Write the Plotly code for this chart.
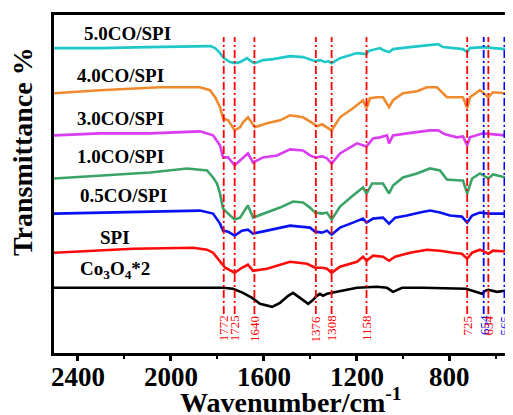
import plotly.graph_objects as go

# ---------------- data ----------------
series_names = ["5.0CO/SPI", "4.0CO/SPI", "3.0CO/SPI", "1.0CO/SPI",
                "0.5CO/SPI", "SPI", "Co<sub>3</sub>O<sub>4</sub>*2"]

wn_50 = [2502, 2300, 2100, 1874, 1830, 1809, 1788, 1772, 1745, 1725, 1702, 1672, 1650, 1638,
         1603, 1560, 1487, 1431, 1401, 1379, 1358, 1336, 1323, 1308, 1272, 1199, 1158, 1150,
         1100, 1087, 1061, 1044, 971, 885, 850, 829, 769, 743, 725, 713, 657, 597, 563, 528]
t_50 = [305, 305, 306, 307, 307, 305, 300, 295, 291, 290, 291, 295, 291, 290,
        293, 294, 297, 296, 294, 292, 293, 291, 292, 290, 295, 300, 299, 302,
        305, 303, 301, 304, 306, 308, 309, 306, 305, 304, 301, 305, 306, 305, 304, 306]

wn_40 = [2502, 2304, 2046, 1874, 1831, 1809, 1788, 1775, 1753, 1725, 1702, 1689, 1668, 1650,
         1638, 1586, 1530, 1487, 1431, 1388, 1371, 1349, 1328, 1308, 1272, 1216, 1173, 1158,
         1143, 1113, 1087, 1061, 1044, 1001, 941, 898, 855, 812, 769, 743, 725, 713, 670, 634,
         614, 563, 528]
t_40 = [260, 263, 266, 266, 263, 256, 246, 235, 233, 223, 226, 231, 236, 230,
        226, 230, 233, 238, 236, 230, 227, 229, 226, 223, 236, 245, 253, 245,
        255, 256, 256, 246, 253, 260, 262, 266, 266, 256, 256, 256, 245, 256, 263, 256,
        261, 260, 264]

wn_30 = [2502, 2304, 2089, 1874, 1818, 1788, 1775, 1753, 1725, 1702, 1668, 1646, 1603, 1543,
         1487, 1431, 1401, 1379, 1349, 1328, 1308, 1272, 1199, 1158, 1130, 1100, 1070, 1061,
         1044, 984, 885, 850, 820, 769, 743, 725, 713, 657, 597, 563, 528]
t_30 = [218, 220, 220, 222, 218, 208, 196, 196, 188, 193, 200, 191, 196, 198,
        204, 203, 198, 196, 197, 195, 190, 200, 210, 207, 215, 216, 218, 210,
        218, 220, 223, 223, 219, 216, 217, 208, 216, 220, 219, 218, 221]

wn_10 = [2502, 2304, 2089, 1930, 1844, 1818, 1801, 1788, 1775, 1753, 1725, 1702, 1689, 1668,
         1646, 1586, 1530, 1474, 1431, 1401, 1379, 1349, 1328, 1308, 1272, 1216, 1173, 1158,
         1134, 1087, 1061, 1044, 1001, 941, 885, 842, 812, 756, 743, 725, 704, 670, 634, 614,
         558, 528]
t_10 = [175, 178, 181, 185, 183, 176, 170, 160, 145, 140, 134, 136, 141, 148,
        136, 141, 146, 152, 151, 146, 141, 140, 141, 134, 147, 158, 166, 160,
        170, 170, 160, 168, 176, 180, 185, 183, 174, 173, 173, 160, 175, 180, 175, 179,
        176, 180]

wn_05 = [2502, 2162, 1874, 1818, 1788, 1775, 1753, 1725, 1694, 1668, 1646, 1586, 1487, 1401,
         1379, 1349, 1328, 1308, 1272, 1216, 1173, 1158, 1130, 1087, 1061, 1035, 984, 928,
         885, 842, 799, 748, 725, 704, 670, 634, 558, 528]
t_05 = [140, 142, 143, 140, 130, 123, 122, 118, 123, 124, 120, 123, 128, 126,
        122, 121, 123, 119, 126, 131, 135, 131, 135, 136, 130, 136, 138, 141,
        143, 141, 138, 137, 131, 138, 141, 140, 140, 141]

wn_spi = [2502, 2162, 1904, 1844, 1818, 1788, 1766, 1725, 1694, 1668, 1646, 1586, 1487, 1414,
          1379, 1349, 1328, 1308, 1272, 1199, 1173, 1158, 1130, 1087, 1061, 1035, 971, 898,
          842, 786, 748, 725, 704, 670, 634, 614, 554, 528]
t_spi = [101, 105, 106, 104, 101, 93, 86, 81, 86, 89, 83, 85, 92, 90,
         86, 86, 85, 81, 87, 92, 97, 93, 98, 97, 93, 97, 101, 104,
         103, 101, 100, 95, 101, 104, 100, 103, 102, 104]

wn_co = [2502, 2162, 1775, 1732, 1689, 1650, 1616, 1564, 1530, 1495, 1474, 1444, 1409, 1392,
         1371, 1358, 1345, 1328, 1285, 1199, 1113, 1070, 1044, 1005, 915, 799, 730, 661, 648,
         634, 597, 528]
t_co = [66, 66, 66, 65, 61, 56, 50, 47, 51, 58, 61, 56, 50, 53,
        58, 60, 58, 60, 62, 66, 67, 66, 62, 66, 66, 65, 65, 60, 63,
        64, 62, 64]

peak_wn = [1772, 1725, 1640, 1376, 1308, 1158, 725, 654, 634, 565]
peak_labels = ["1772", "1725", "1640", "1376", "1308", "1158", "725", "654", "634", "565"]
blue_peaks = [654, 565]

x_title = "Wavenumber/cm<sup>-1</sup>"
y_title = "Transmittance %"
x_tickvals = [2400, 2000, 1600, 1200, 800]
x_ticktext = ["2400", "2000", "1600", "1200", "800"]
x_minor_vals = [2200, 1800, 1400, 1000, 600]

# ---------------- styling ----------------
# the page body has an 8px margin, so the figure is placed 8px in from the window corner
OFF = 8
W, H = 513 - OFF, 415 - OFF
ML, MR, MT, MB = 54 - OFF, 0, 15 - OFF, 415 - 353
SERIF = "Liberation Serif"
colors = ["#1EC8C8", "#F08A2E", "#DA3CF2", "#3AA366", "#0A12F2", "#FF0A0A", "#000000"]
series = [(wn_50, t_50), (wn_40, t_40), (wn_30, t_30), (wn_10, t_10),
          (wn_05, t_05), (wn_spi, t_spi), (wn_co, t_co)]
# label anchor in window pixels (left x, centre y)
label_pos = [(82, 34), (75, 75), (75, 118), (75, 156), (78, 195), (98, 238), (78, 270)]

YR = [1, 338]
XR = [2502, 528]

pw = W - ML - MR
ph = H - MT - MB


def px_to_paper(px, py):
    return (px - OFF - ML) / pw, (H - MB - (py - OFF)) / ph


fig = go.Figure()
for (wx, ty), c in zip(series, colors):
    fig.add_trace(go.Scatter(x=wx, y=ty, mode="lines",
                             line=dict(color=c, width=2.6), showlegend=False,
                             hoverinfo="skip"))

# vertical marker lines with rotated labels (text top end at window y=315)
line_top, line_bot = 316, 40
label_top_py, digit_px = 315, 6.8
for w, lab in zip(peak_wn, peak_labels):
    c = "#0000FF" if w in blue_peaks else "#FF0000"
    fig.add_shape(type="line", xref="x", yref="y", x0=w, x1=w, y0=line_bot, y1=line_top,
                  line=dict(color=c, width=1.8, dash="8px,3px,2px,3px"), layer="above")
    _, ly = px_to_paper(0, label_top_py + len(lab) * digit_px / 2)
    fig.add_annotation(x=w, y=ly, xref="x", yref="paper", text=lab, showarrow=False,
                       textangle=-90, xanchor="center", yanchor="middle",
                       font=dict(family=SERIF, size=13, color=c))

for name, (px, py) in zip(series_names, label_pos):
    ax, ay = px_to_paper(px, py)
    fig.add_annotation(x=ax, y=ay, xref="paper", yref="paper",
                       text="<b>%s</b>" % name, showarrow=False, xanchor="left",
                       yanchor="middle", font=dict(family=SERIF, size=19, color="black"))

# x tick labels
_, ty = px_to_paper(0, 377)
for v, t in zip(x_tickvals, x_ticktext):
    fig.add_annotation(x=v, y=ty, xref="x", yref="paper", text="<b>%s</b>" % t,
                       showarrow=False, xanchor="center", yanchor="middle",
                       font=dict(family=SERIF, size=27, color="black"))

# axis titles
ax, ay = px_to_paper(291, 400)
fig.add_annotation(x=ax, y=ay, xref="paper", yref="paper",
                   text="<b>%s</b>" % x_title, showarrow=False, xanchor="center",
                   yanchor="middle", font=dict(family=SERIF, size=28, color="black"))
ax, ay = px_to_paper(22, 152)
fig.add_annotation(x=ax, y=ay, xref="paper", yref="paper",
                   text="<b>%s</b>" % y_title, showarrow=False, textangle=-90,
                   xanchor="center", yanchor="middle",
                   font=dict(family=SERIF, size=28, color="black"))

fig.update_layout(
    template="none",
    width=W, height=H, margin=dict(l=ML, r=MR, t=MT, b=MB, autoexpand=False),
    paper_bgcolor="white", plot_bgcolor="white", showlegend=False,
    xaxis=dict(range=XR, autorange=False, automargin=False, showgrid=False, zeroline=False,
               showline=True, linecolor="black",
               linewidth=3, mirror=True, ticks="outside", ticklen=5, tickwidth=2.5,
               tickcolor="black", tickvals=x_tickvals, showticklabels=False,
               minor=dict(tickvals=x_minor_vals, ticklen=3, tickwidth=2, tickcolor="black",
                          ticks="outside")),
    yaxis=dict(range=YR, autorange=False, automargin=False, showgrid=False, zeroline=False,
               showline=True, linecolor="black",
               linewidth=3, mirror=False, showticklabels=False, ticks=""),
)

fig.write_html("out.html")
